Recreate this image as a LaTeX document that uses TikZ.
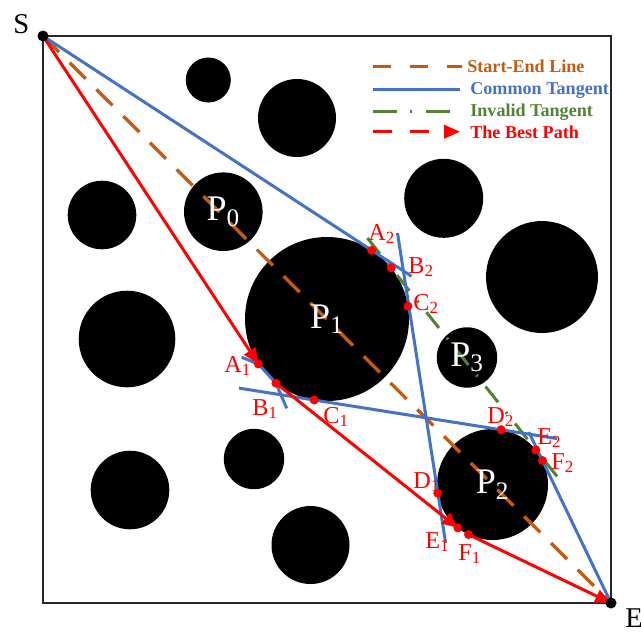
\documentclass[tikz,border=0pt]{standalone}
\usepackage{fontspec}
\setmainfont{Liberation Serif}
\usepackage{xcolor}
\usepackage{tikz}
\usetikzlibrary{arrows.meta}

\definecolor{seorange}{RGB}{197,90,17}
\definecolor{tanblue}{RGB}{68,114,196}
\definecolor{badgreen}{RGB}{84,130,53}

\begin{document}
\begin{tikzpicture}[
    x=0.02cm, y=-0.02cm,
    startend/.style={seorange, line width=1.9pt, dash pattern=on 12.9pt off 8.6pt},
    tangent/.style={tanblue, line width=1.7pt},
    invalid/.style={badgreen, line width=1.7pt, dash pattern=on 11.4pt off 7.2pt on 1.2pt off 7.2pt},
    bestpath/.style={red, line width=1.7pt, -{Triangle[length=9pt,width=7.5pt]}},
    ptlabel/.style={red, anchor=base west, inner sep=0pt, font=\fontsize{13.8}{14}\selectfont},
    obslabel/.style={white, inner sep=0pt, font=\fontsize{20.5}{21}\selectfont},
    endlabel/.style={black, anchor=base west, inner sep=0pt, font=\fontsize{16.3}{17}\selectfont},
    legtext/.style={anchor=base west, inner sep=0pt, font=\fontsize{10.3}{11}\selectfont\bfseries}
]

% Frame
\useasboundingbox (0,0) rectangle (641,633);
\coordinate (S) at (43,36);
\coordinate (E) at (611,603);
\draw[line width=0.9pt, black!85] (S) rectangle (E);

% Obstacles
\foreach \cx/\cy/\r in {208.3/80/22.5, 297/118/39, 102/215/34.3, 443.7/198.3/39.5, 542/277/56,
    127/339/48.3, 254/459/30.2, 130/490/39.3, 310.5/545/39}
    \fill (\cx,\cy) circle (\r);
\coordinate (P0) at (223.3,211.7);
\coordinate (P1) at (327,319);
\coordinate (P2) at (492.5,484.5);
\coordinate (P3) at (467,357.5);
\fill (P0) circle (39.3);
\fill (P1) circle (82);
\fill (P2) circle (55.5);
\fill (P3) circle (30.2);

% Tangent points
\coordinate (A1) at (258.4,364);
\coordinate (B1) at (275.9,383.1);
\coordinate (C1) at (314.2,400);
\coordinate (A2) at (371.7,250.3);
\coordinate (B2) at (391.2,267.9);
\coordinate (C2) at (408,306.2);
\coordinate (D1) at (437.7,493.2);
\coordinate (E1) at (457.9,527.9);
\coordinate (F1) at (468.5,534.5);
\coordinate (D2) at (501.2,429.7);
\coordinate (E2) at (535.9,449.9);
\coordinate (F2) at (542.5,460.5);

% Line ends
\coordinate (a2end) at (411.6,276.3);
\coordinate (c2start) at (397.5,233);
\coordinate (d1end) at (445.6,543);
\coordinate (c1start) at (239,388.1);
\coordinate (d2end) at (557,438.6);
\coordinate (f2end) at (528.8,432);
\coordinate (b2start) at (367.4,238);
\coordinate (e2end) at (559.9,480);
\coordinate (a1start) at (241.7,357.3);
\coordinate (b1end) at (286.7,408.3);

% Lines
\draw[startend] (S) -- (E);
\draw[invalid] (b2start) -- (e2end);
\draw[tangent] (S) -- (a2end);
\draw[tangent] (c2start) -- (d1end);
\draw[tangent] (c1start) -- (d2end);
\draw[tangent] (f2end) -- (E);
\draw[tangent] (a1start) -- (A1) -- (B1) -- (b1end);

% Best path
\draw[bestpath] (S) -- (A1);
\draw[bestpath] (B1) -- (E1);
\draw[bestpath] (F1) -- (E);

% Points
\foreach \p in {A1,B1,C1,A2,B2,C2,D1,E1,F1,D2,E2,F2}
    \fill[red] (\p) circle (4.5);
\fill (S) circle (5.5);
\fill (E) circle (5.5);

% Labels
\node[endlabel] (lS) at (13,33) {S};
\node[endlabel] (lE) at (625,627) {E};
\node[obslabel] (lP0) at (P0) {P\textsubscript{0}};
\node[obslabel] (lP1) at (P1) {P\textsubscript{1}};
\node[obslabel] (lP2) at (P2) {P\textsubscript{2}};
\node[obslabel] (lP3) at (P3) {P\textsubscript{3}};
\node[ptlabel] (lA2) at (368,240) {A\textsubscript{2}};
\node[ptlabel] (lB2) at (408,273) {B\textsubscript{2}};
\node[ptlabel] (lC2) at (413,310) {C\textsubscript{2}};
\node[ptlabel] (lA1) at (224,372) {A\textsubscript{1}};
\node[ptlabel] (lB1) at (252,415) {B\textsubscript{1}};
\node[ptlabel] (lC1) at (323,423) {C\textsubscript{1}};
\node[ptlabel] (lD2) at (487,423) {D\textsubscript{2}};
\node[ptlabel] (lE2) at (537,444) {E\textsubscript{2}};
\node[ptlabel] (lF2) at (551,469) {F\textsubscript{2}};
\node[ptlabel] (lD1) at (413,488) {D\textsubscript{1}};
\node[ptlabel] (lE1) at (425,548) {E\textsubscript{1}};
\node[ptlabel] (lF1) at (458,560) {F\textsubscript{1}};

% Legend
\coordinate (lg1a) at (373,66.7);  \coordinate (lg1b) at (462,66.7);
\coordinate (lg2a) at (373,89);    \coordinate (lg2b) at (460,89);
\coordinate (lg3a) at (373,111);   \coordinate (lg3b) at (450,111);
\coordinate (lg4a) at (373,131.7); \coordinate (lg4b) at (460,131.7);
\draw[startend, dash pattern=on 10.2pt off 10.8pt] (lg1a) -- (lg1b);
\draw[tangent] (lg2a) -- (lg2b);
\draw[invalid, dash pattern=on 13.6pt off 7.6pt on 1.2pt off 7.6pt] (lg3a) -- (lg3b);
\draw[bestpath, dash pattern=on 10.8pt off 10pt] (lg4a) -- (lg4b);
\node[legtext, text=seorange] (lgt1) at (467,72.7) {Start-End Line};
\node[legtext, text=tanblue] (lgt2) at (470,94) {Common Tangent};
\node[legtext, text=badgreen] (lgt3) at (470,116.7) {Invalid Tangent};
\node[legtext, text=red] (lgt4) at (470,138.3) {The Best Path};

\end{tikzpicture}
\end{document}
